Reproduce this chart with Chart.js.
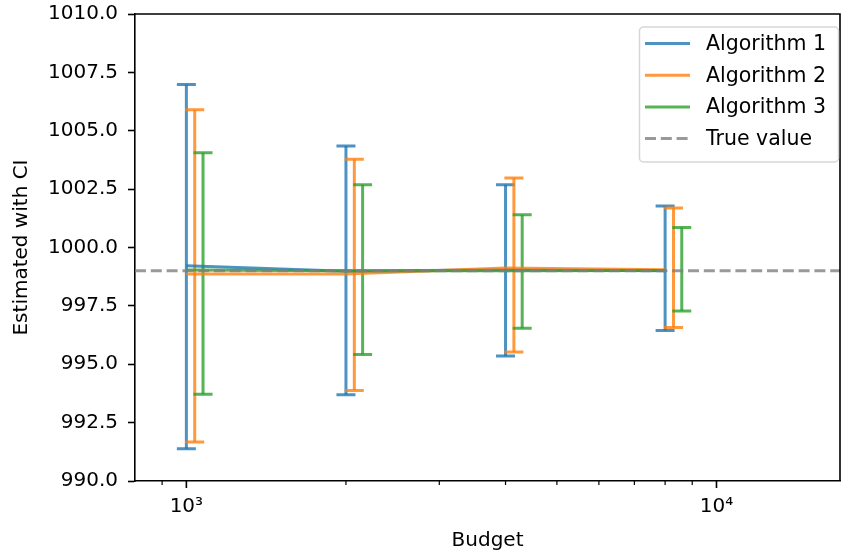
<!DOCTYPE html>
<html><head><meta charset="utf-8">
<script src="https://cdn.jsdelivr.net/npm/chart.js@4/dist/chart.umd.min.js"></script>
<style>html,body{margin:0;padding:0;background:#fff;overflow:hidden}</style>
</head><body>
<canvas id="c" width="841" height="557"></canvas>
<script>
// ---------- data ----------
const budgets = [1000, 2000, 4000, 8000];
const seriesNames = ['Algorithm 1', 'Algorithm 2', 'Algorithm 3'];
const alg1Mean  = [999.22, 998.98, 999.05, 999.00];
const alg2Mean  = [998.86, 998.86, 999.12, 999.05];
const alg3Mean  = [999.04, 999.00, 999.00, 999.02];
const alg1Lower = [991.38, 993.69, 995.35, 996.45];
const alg1Upper = [1006.98, 1004.35, 1002.69, 1001.78];
const alg2Lower = [991.67, 993.88, 995.52, 996.57];
const alg2Upper = [1005.90, 1003.78, 1002.98, 1001.69];
const alg3Lower = [993.71, 995.42, 996.54, 997.28];
const alg3Upper = [1004.06, 1002.69, 1001.40, 1000.86];
const errBarShift = [1, 1.037, 1.075];   // multiplicative x shift of each algorithm's CI bars
const trueValue = 999.0;
const trueLabel = 'True value';
const xLimits = [800, 17100];
const yLimits = [990, 1010];
const yTickValues = [990, 992.5, 995, 997.5, 1000, 1002.5, 1005, 1007.5, 1010];
const xMajorTicks = [1000, 10000];
const xMinorTicks = [900, 2000, 3000, 4000, 5000, 6000, 7000, 8000, 9000];
const xTickLabels = {1000: '10\u00B3', 10000: '10\u2074'};
const xTitle = 'Budget';
const yTitle = 'Estimated with CI';

// ---------- styles ----------
const FONT = 'DejaVu Sans';
const colors = ['rgba(31,119,180,0.8)', 'rgba(255,127,14,0.8)', 'rgba(44,160,44,0.8)'];
const trueColor = 'rgba(128,128,128,0.8)';
const means = [alg1Mean, alg2Mean, alg3Mean];
const lowers = [alg1Lower, alg2Lower, alg3Lower];
const uppers = [alg1Upper, alg2Upper, alg3Upper];

const datasets = seriesNames.map((name, i) => ({
  label: name,
  data: budgets.map((b, j) => ({x: b, y: means[i][j]})),
  borderColor: colors[i],
  backgroundColor: colors[i],
  borderWidth: 3,
  pointRadius: 0,
  tension: 0,
  order: 3 - i,
  legendStyle: 'solid'
}));
datasets.push({
  label: trueLabel,
  data: [{x: xLimits[0], y: trueValue}, {x: xLimits[1], y: trueValue}],
  borderColor: trueColor,
  borderWidth: 3,
  borderDash: [11, 4.8],
  pointRadius: 0,
  order: 0,
  legendStyle: 'dashed'
});

const mplPlugin = {
  id: 'mpl',
  beforeDatasetsDraw(chart) {
    const {ctx, scales: {x, y}} = chart;
    ctx.save();
    ctx.lineWidth = 3;
    ctx.lineCap = 'butt';
    for (let i = 0; i < seriesNames.length; i++) {
      ctx.strokeStyle = colors[i];
      for (let j = 0; j < budgets.length; j++) {
        const px = x.getPixelForValue(budgets[j] * errBarShift[i]);
        const pyL = y.getPixelForValue(lowers[i][j]);
        const pyU = y.getPixelForValue(uppers[i][j]);
        const cap = 9.5;
        ctx.beginPath();
        ctx.moveTo(px, pyL); ctx.lineTo(px, pyU);
        ctx.stroke();
        ctx.beginPath();
        ctx.moveTo(px - cap, pyL); ctx.lineTo(px + cap, pyL);
        ctx.moveTo(px - cap, pyU); ctx.lineTo(px + cap, pyU);
        ctx.stroke();
      }
    }
    ctx.restore();
  },
  afterDraw(chart) {
    const {ctx, chartArea: a, scales: {x}} = chart;
    ctx.save();
    // spines top & right
    ctx.strokeStyle = '#000';
    ctx.lineWidth = 1.6;
    ctx.beginPath();
    ctx.moveTo(a.left, a.top); ctx.lineTo(a.right, a.top); ctx.lineTo(a.right, a.bottom);
    ctx.stroke();
    // x ticks
    xMajorTicks.forEach(v => {
      const px = x.getPixelForValue(v);
      ctx.lineWidth = 1.6;
      ctx.beginPath(); ctx.moveTo(px, a.bottom); ctx.lineTo(px, a.bottom + 7); ctx.stroke();
    });
    xMinorTicks.forEach(v => {
      const px = x.getPixelForValue(v);
      ctx.lineWidth = 1.2;
      ctx.beginPath(); ctx.moveTo(px, a.bottom); ctx.lineTo(px, a.bottom + 4); ctx.stroke();
    });
    // legend
    const L = {left: 639.5, top: 27, right: 838.5, bottom: 162, r: 4};
    ctx.beginPath();
    ctx.roundRect(L.left, L.top, L.right - L.left, L.bottom - L.top, L.r);
    ctx.fillStyle = 'rgba(255,255,255,0.8)';
    ctx.fill();
    ctx.strokeStyle = 'rgba(204,204,204,0.8)';
    ctx.lineWidth = 1.5;
    ctx.stroke();
    const rowY = [43.5, 75.2, 106.9, 138.6];
    const legendItems = chart.data.datasets;
    ctx.font = '20.5px "' + FONT + '"';
    ctx.textBaseline = 'middle';
    ctx.textAlign = 'left';
    legendItems.forEach((ds, k) => {
      const yy = rowY[k];
      ctx.strokeStyle = ds.borderColor;
      ctx.lineWidth = 3;
      ctx.setLineDash(ds.legendStyle === 'dashed' ? [11, 4.8] : []);
      ctx.beginPath(); ctx.moveTo(645, yy); ctx.lineTo(690, yy); ctx.stroke();
      ctx.setLineDash([]);
      ctx.fillStyle = '#000';
      ctx.fillText(ds.label, 706, yy + 1);
    });
    ctx.restore();
  }
};

const tickFont = {family: FONT, size: 20};
const noPad = s => { s.paddingTop = 0; s.paddingBottom = 0; s.paddingLeft = 0; s.paddingRight = 0; };
new Chart(document.getElementById('c'), {
  type: 'line',
  data: {datasets},
  plugins: [mplPlugin],
  options: {
    responsive: false,
    animation: false,
    devicePixelRatio: 1,
    layout: {padding: {top: 14, right: 1, left: 0, bottom: 0}},
    plugins: {legend: {display: false}, tooltip: {enabled: false}},
    scales: {
      x: {
        type: 'logarithmic',
        min: xLimits[0], max: xLimits[1],
        afterBuildTicks: s => {
          s.ticks = xMajorTicks.concat(xMinorTicks).sort((p, q) => p - q).map(v => ({value: v}));
        },
        afterFit: s => { s.height = 76; noPad(s); },
        ticks: {
          autoSkip: false, maxRotation: 0, minRotation: 0,
          callback: v => xTickLabels[v] || '',
          font: tickFont, color: '#000', padding: 7
        },
        grid: {drawOnChartArea: false, drawTicks: true, tickLength: 7, tickColor: 'rgba(0,0,0,0)'},
        border: {display: true, color: '#000', width: 1.6},
        title: {display: true, text: xTitle, font: tickFont, color: '#000', padding: {top: 0, bottom: 4}}
      },
      y: {
        type: 'linear',
        min: yLimits[0], max: yLimits[1],
        afterBuildTicks: s => { s.ticks = yTickValues.map(v => ({value: v})); },
        afterFit: s => { s.width = 135; noPad(s); },
        ticks: {
          callback: v => Number(v).toFixed(1),
          font: tickFont, color: '#000', padding: 10
        },
        grid: {drawOnChartArea: false, drawTicks: true, tickLength: 7, tickWidth: 1.6, tickColor: '#000'},
        border: {display: true, color: '#000', width: 1.6},
        title: {display: true, text: yTitle, font: tickFont, color: '#000', padding: {top: 10, bottom: 0}}
      }
    }
  }
});
</script>
</body></html>
